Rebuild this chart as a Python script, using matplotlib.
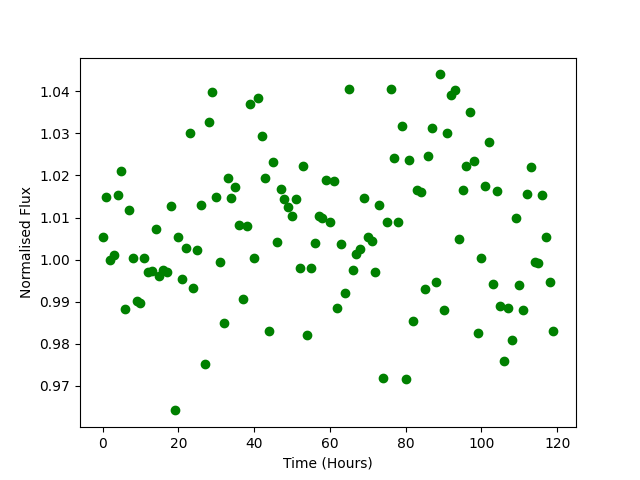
import numpy as np
import matplotlib
matplotlib.use("Agg")
import matplotlib.pyplot as plt

# flux values, one per hour
time = np.arange(120)
flux = [1.0053, 1.0150, 1.0000, 1.0010, 1.0153, 1.0210, 0.9882, 1.0118, 1.0005, 0.9902,
        0.9898, 1.0003, 0.9970, 0.9972, 1.0072, 0.9962, 0.9975, 0.9970, 1.0127, 0.9642,
        1.0053, 0.9953, 1.0028, 1.0302, 0.9933, 1.0023, 1.0130, 0.9753, 1.0327, 1.0398,
        1.0150, 0.9995, 0.9850, 1.0193, 1.0147, 1.0172, 1.0082, 0.9907, 1.0080, 1.0370,
        1.0005, 1.0383, 1.0293, 1.0193, 0.9830, 1.0233, 1.0042, 1.0168, 1.0143, 1.0125,
        1.0104, 1.0143, 0.9980, 1.0222, 0.9820, 0.9980, 1.0040, 1.0103, 1.0098, 1.0190,
        1.0090, 1.0187, 0.9885, 1.0037, 0.9920, 1.0405, 0.9975, 1.0013, 1.0025, 1.0147,
        1.0053, 1.0045, 0.9970, 1.0130, 0.9720, 1.0090, 1.0405, 1.0242, 1.0090, 1.0317,
        0.9717, 1.0237, 0.9855, 1.0165, 1.0160, 0.9930, 1.0247, 1.0312, 0.9948, 1.0440,
        0.9880, 1.0300, 1.0390, 1.0402, 1.0050, 1.0165, 1.0223, 1.0350, 1.0235, 0.9827,
        1.0005, 1.0175, 1.0280, 0.9943, 1.0163, 0.9890, 0.9760, 0.9885, 0.9810, 1.0100,
        0.9940, 0.9880, 1.0155, 1.0220, 0.9995, 0.9992, 1.0153, 1.0055, 0.9947, 0.9830]

plt.figure(figsize=(6.4, 4.8), dpi=100)
plt.plot(time, flux, 'go')
plt.xlabel("Time (Hours)")
plt.ylabel("Normalised Flux")
plt.savefig("out.png")
